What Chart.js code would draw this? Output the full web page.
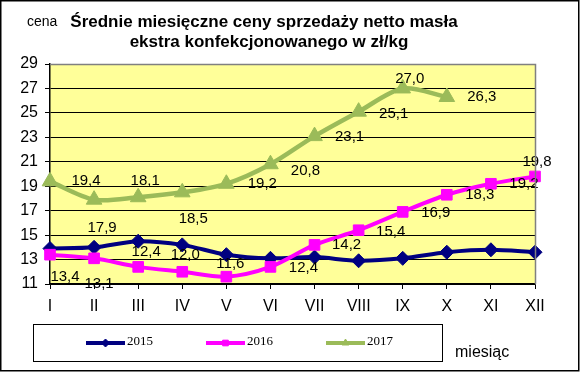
<!DOCTYPE html>
<html>
<head>
<meta charset="utf-8">
<script src="https://cdn.jsdelivr.net/npm/chart.js@4/dist/chart.umd.min.js"></script>
<style>
  html, body { margin: 0; padding: 0; background: #fff; }
  #wrap { width: 580px; height: 375px; position: relative; }
</style>
</head>
<body>
<div id="wrap"><canvas id="c" width="580" height="375"></canvas></div>
<script>
// ---- data ----
const months = ['I','II','III','IV','V','VI','VII','VIII','IX','X','XI','XII'];
const seriesNames = ['2015','2016','2017'];
const values2015 = [13.9, 14.0, 14.5, 14.2, 13.4, 13.1, 13.2, 12.9, 13.1, 13.6, 13.8, 13.6];
const values2016 = [13.4, 13.1, 12.4, 12.0, 11.6, 12.4, 14.2, 15.4, 16.9, 18.3, 19.2, 19.8];
const values2017 = [19.4, 17.9, 18.1, 18.5, 19.2, 20.8, 23.1, 25.1, 27.0, 26.3];
const yTicks = [11, 13, 15, 17, 19, 21, 23, 25, 27, 29];
const titleLines = ['Średnie miesięczne ceny sprzedaży netto masła', 'ekstra konfekcjonowanego w zł/kg'];
const yAxisTitle = 'cena';
const xAxisTitle = 'miesiąc';

// ---- style: data label offsets (px) ----
const labelOffsets = {
  1: [[15,22],[5,26],[8,-15],[3,-17],[4,-13],[33,1],[32,0],[32,2],[33,1],[33,0],[33,0],[2,-15]],
  2: [[36,0],[8,28],[7,-16],[11,27],[36,0],[35,7],[35,1],[35,2],[7,-10],[35,0]]
};

const colors = ['#000080', '#FF00FF', '#9BBB59'];

const bgPlugin = {
  id: 'bg',
  beforeDraw(chart) {
    const {ctx, chartArea: a} = chart;
    ctx.save();
    ctx.fillStyle = '#fff';
    ctx.fillRect(0, 0, chart.width, chart.height);
    ctx.fillStyle = '#FFFF99';
    ctx.fillRect(a.left, a.top, a.right - a.left, a.bottom - a.top);
    ctx.restore();
  },
  afterDraw(chart) {
    const {ctx, chartArea: a} = chart;
    ctx.save();
    // plot border top/right gray
    ctx.strokeStyle = '#808080';
    ctx.lineWidth = 1.5;
    ctx.beginPath();
    ctx.moveTo(a.left, a.top + 0.5);
    ctx.lineTo(a.right + 0.5, a.top + 0.5);
    ctx.lineTo(a.right + 0.5, a.bottom);
    ctx.stroke();
    // outer border
    ctx.strokeStyle = '#000';
    ctx.lineWidth = 1.5;
    ctx.strokeRect(0.75, 0.75, 578, 370);
    // title
    ctx.fillStyle = '#000';
    ctx.textAlign = 'center';
    ctx.textBaseline = 'middle';
    ctx.font = 'bold 17px "Liberation Sans", Arial, sans-serif';
    ctx.fillText(titleLines[0], 264, 22);
    ctx.fillText(titleLines[1], 269, 42);
    ctx.textAlign = 'left';
    ctx.font = '14px "Liberation Sans", Arial, sans-serif';
    ctx.fillText(yAxisTitle, 27, 22);
    ctx.font = '16px "Liberation Sans", Arial, sans-serif';
    ctx.fillText(xAxisTitle, 455, 353);
    // legend box
    ctx.lineWidth = 1;
    ctx.strokeStyle = '#000';
    ctx.strokeRect(33.5, 324.5, 409, 37);
    const lx = [86, 206, 326];
    chart.data.datasets.forEach((ds, i) => {
      const x0 = lx[i], y0 = 343;
      ctx.strokeStyle = ds.borderColor;
      ctx.fillStyle = ds.backgroundColor;
      ctx.lineWidth = 4;
      ctx.beginPath();
      ctx.moveTo(x0, y0);
      ctx.lineTo(x0 + 39, y0);
      ctx.stroke();
      ctx.lineWidth = 1;
      Chart.helpers.drawPoint(ctx, {pointStyle: ds.pointStyle, radius: 4, borderWidth: 1}, x0 + 19.5, y0);
      ctx.fillStyle = '#000';
      ctx.font = '13px "Liberation Serif", "Times New Roman", serif';
      ctx.textAlign = 'left';
      ctx.textBaseline = 'middle';
      ctx.fillText(ds.label, x0 + 41, y0 - 1);
    });
    ctx.restore();
  }
};

const labelPlugin = {
  id: 'dlabels',
  afterDatasetsDraw(chart) {
    const {ctx} = chart;
    ctx.save();
    ctx.fillStyle = '#000';
    ctx.font = '15px "Liberation Sans", Arial, sans-serif';
    ctx.textAlign = 'center';
    ctx.textBaseline = 'middle';
    Object.keys(labelOffsets).forEach(k => {
      const idx = +k;
      const meta = chart.getDatasetMeta(idx);
      const vals = chart.data.datasets[idx].data;
      meta.data.forEach((pt, j) => {
        const off = labelOffsets[idx][j] || [0, 0];
        const txt = vals[j].toFixed(1).replace('.', ',');
        ctx.fillText(txt, pt.x + off[0], pt.y + off[1]);
      });
    });
    ctx.restore();
  }
};

const chart = new Chart(document.getElementById('c'), {
  type: 'line',
  data: {
    labels: months,
    datasets: [
      { label: seriesNames[0], data: values2015, borderColor: colors[0], backgroundColor: colors[0],
        borderWidth: 4, pointStyle: 'rectRot', pointRadius: 7, pointBorderWidth: 1, tension: 0.3, order: 3 },
      { label: seriesNames[1], data: values2016, borderColor: colors[1], backgroundColor: colors[1],
        borderWidth: 4, pointStyle: 'rect', pointRadius: 7.5, pointBorderWidth: 1, tension: 0.3, order: 2 },
      { label: seriesNames[2], data: values2017, borderColor: colors[2], backgroundColor: colors[2],
        borderWidth: 4.5, pointStyle: 'triangle', pointRadius: 9, pointBorderWidth: 1, tension: 0.3, order: 1 }
    ]
  },
  options: {
    responsive: false,
    animation: false,
    events: [],
    layout: { padding: { left: 0, right: 45, top: 64, bottom: 0 } },
    plugins: { legend: { display: false }, title: { display: false }, tooltip: { enabled: false } },
    scales: {
      x: {
        type: 'category',
        offset: false,
        grid: { display: true, drawOnChartArea: false, drawTicks: true, tickLength: 5, tickColor: '#000', tickWidth: 1 },
        border: { display: true, color: '#000', width: 1.5 },
        ticks: { color: '#000', font: { family: '"Liberation Sans", Arial, sans-serif', size: 16 }, padding: 8, maxRotation: 0, autoSkip: false },
        afterFit(s) { s.height = 375 - 284; }
      },
      y: {
        min: 11, max: 29,
        afterBuildTicks(s) { s.ticks = yTicks.map(v => ({ value: v })); },
        grid: { display: true, color: '#000', lineWidth: 1, drawTicks: true, tickLength: 5, tickColor: '#000' },
        border: { display: true, color: '#000', width: 1.5 },
        ticks: { color: '#000', font: { family: '"Liberation Sans", Arial, sans-serif', size: 16 }, padding: 7 },
        afterFit(s) { s.width = 50; }
      }
    }
  },
  plugins: [bgPlugin, labelPlugin]
});
</script>
</body>
</html>
